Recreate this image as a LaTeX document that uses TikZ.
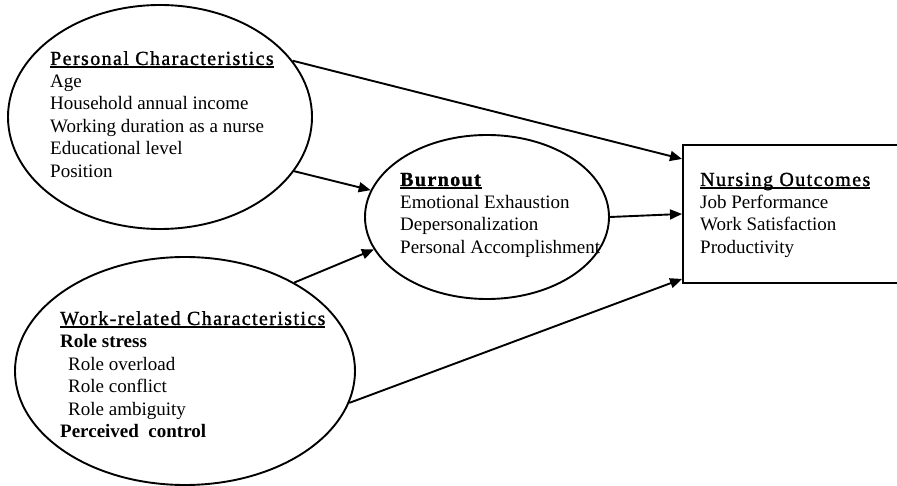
\documentclass[tikz,border=0pt]{standalone}
\usepackage{fontspec}
\setmainfont{Liberation Serif}
\usetikzlibrary{shapes.geometric,arrows.meta}

\tikzset{
  oval/.style={ellipse, draw, line width=1.9pt, inner sep=0pt},
  listtext/.style={anchor=base west, inner sep=0pt, align=left,
    font=\fontsize{19}{22.5}\selectfont},
  link/.style={line width=1.9pt, -{Triangle[length=12pt,width=10pt]}}
}
\newsavebox{\headbox}
\newcommand{\headtitle}[1]{\sbox{\headbox}{\fontsize{20}{22.5}\selectfont
  \addfontfeatures{LetterSpace=7,FakeBold=1.2}#1}%
  \rlap{\rule[-3pt]{\wd\headbox}{1.6pt}}\usebox{\headbox}}

\begin{document}
\begin{tikzpicture}[x=1pt, y=-1pt]
\useasboundingbox (0,0) rectangle (897,486);
\clip (0,0) rectangle (897,486);

% ovals
\node[oval, minimum width=304pt, minimum height=224pt] (pc) at (160,117) {};
\node[oval, minimum width=340pt, minimum height=228pt] (wc) at (185,371) {};
\node[oval, minimum width=244pt, minimum height=164pt] (bo) at (487,217) {};
% outcome box, running off the right edge
\node[draw, line width=1.9pt, anchor=north west, minimum width=320pt, minimum height=138pt,
  inner sep=0pt] (no) at (682,144) {};

% texts (placed by the baseline of their last line)
\node[listtext] (pct) at (50,177.5) {\headtitle{Personal Characteristics}\\
  Age\\ Household annual income\\ Working duration as a nurse\\
  Educational level\\ Position};
\node[listtext] (wct) at (60,437.5) {\headtitle{Work-related Characteristics}\\
  \textbf{Role stress}\\ \hspace{8pt}Role overload\\ \hspace{8pt}Role conflict\\
  \hspace{8pt}Role ambiguity\\ \textbf{Perceived\ \ control}};
\node[listtext] (bot) at (400,253.5) {\headtitle{\textbf{Burnout}}\\
  Emotional Exhaustion\\ Depersonalization\\ Personal Accomplishment};
\node[listtext] (not) at (700,253.5) {\headtitle{Nursing Outcomes}\\
  Job Performance\\ Work Satisfaction\\ Productivity};

% links
\coordinate (noa) at ([yshift=55pt]no.west);
\coordinate (noc) at ([yshift=-65pt]no.west);
\draw[link] (pc.23) -- (noa);
\draw[link] (pc.-22) -- (bo.167);
\draw[link] (wc.39) -- (bo.196);
\draw[link] (bo.0) -- (no.west);
\draw[link] (wc.-11) -- (noc);
\end{tikzpicture}
\end{document}
